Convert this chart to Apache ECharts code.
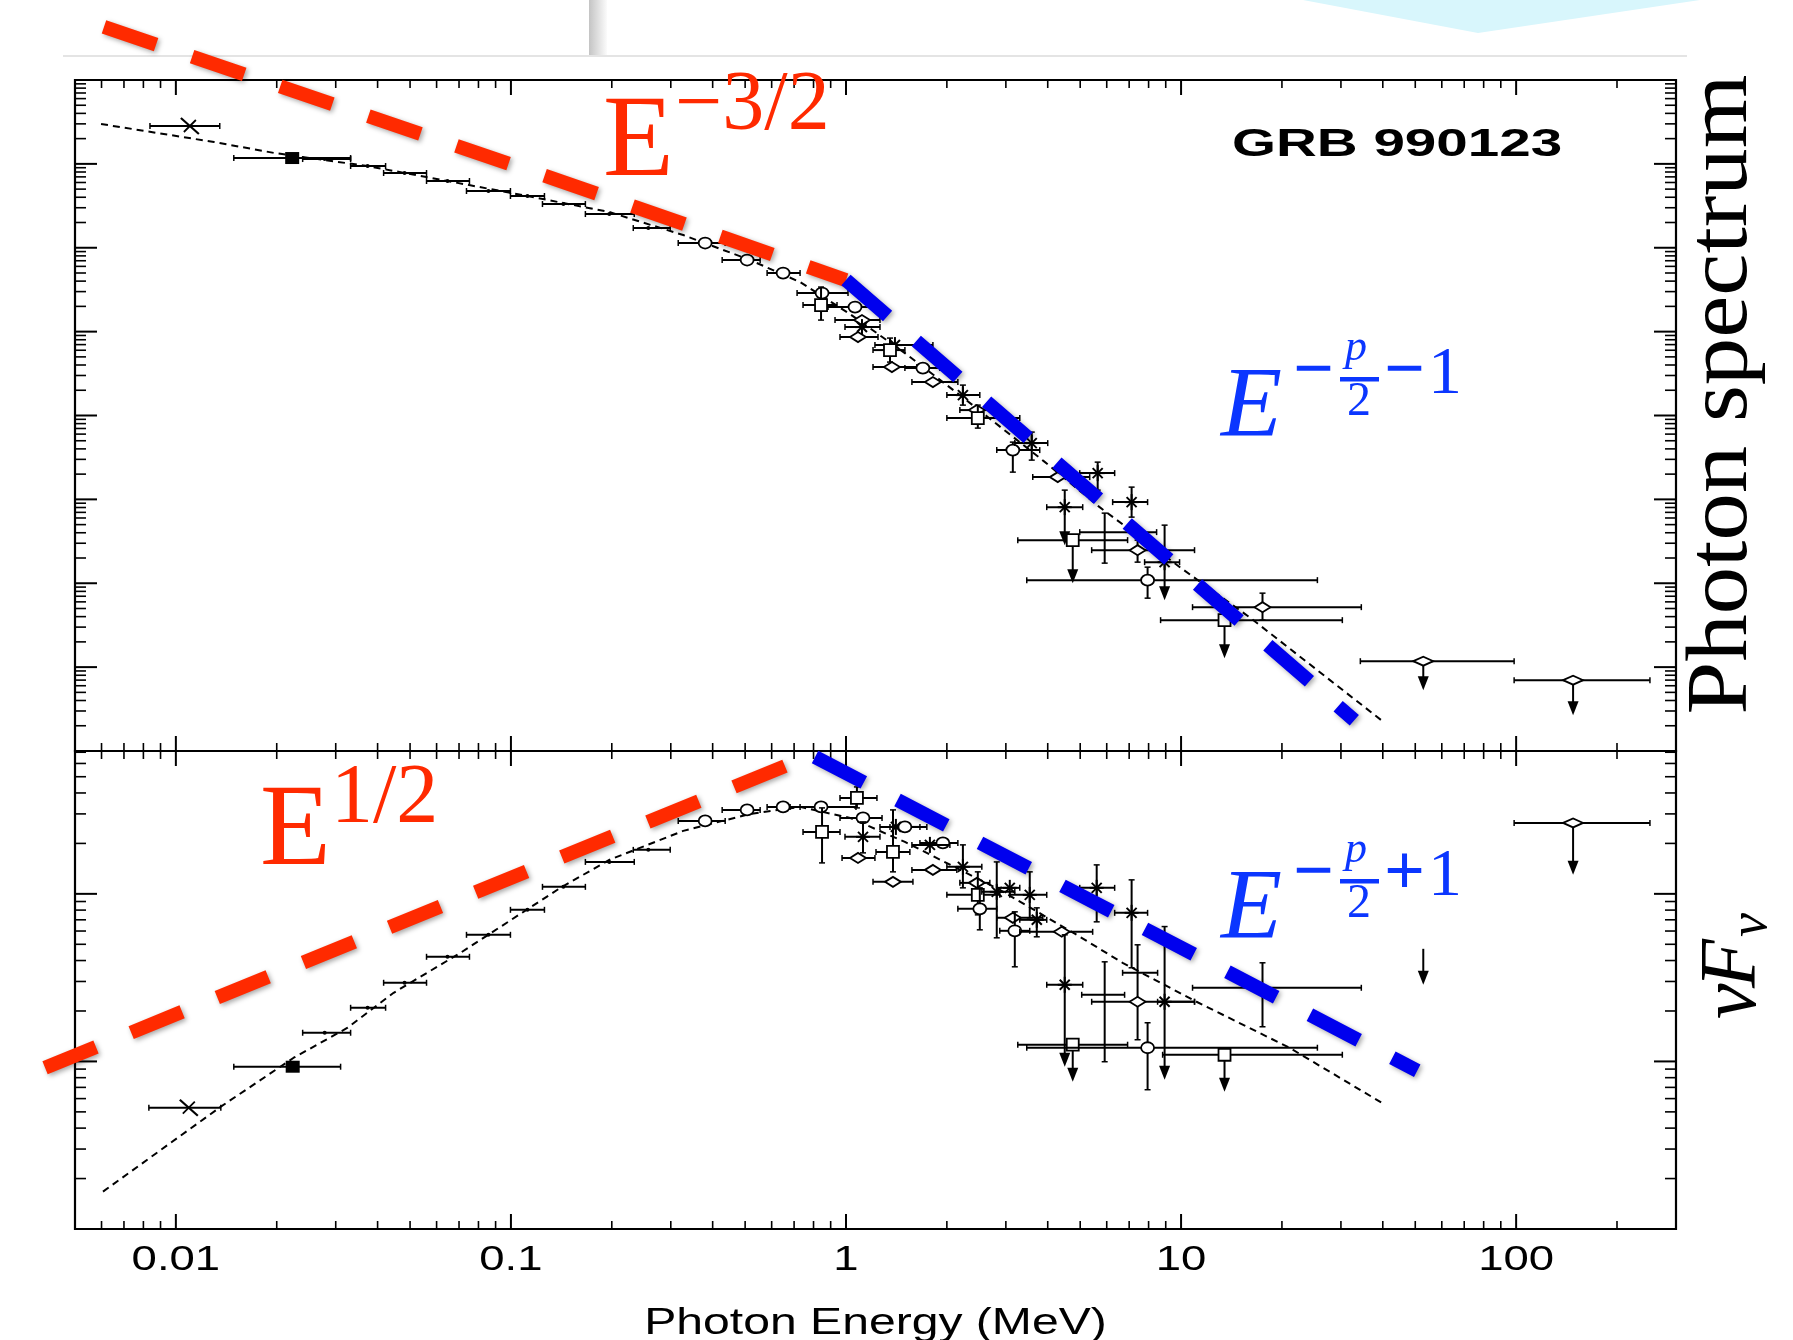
<!DOCTYPE html>
<html><head><meta charset="utf-8">
<script src="https://cdn.jsdelivr.net/npm/echarts@6/dist/echarts.min.js"></script>
<style>html,body{margin:0;padding:0;background:#fff;}#c{width:1793px;height:1340px;}</style>
</head><body><div id="c"></div><script>
// ---------- data (E in MeV; fluxes in arbitrary units, log axes) ----------
const xTickValues = [0.01, 0.1, 1, 10, 100];
const xTickLabels = ['0.01', '0.1', '1', '10', '100'];

// Band-function fit, photon spectrum (top panel)
const fitTopE = [0.00598, 0.0130, 0.0197, 0.0373, 0.0647, 0.112, 0.1966, 0.3268, 0.5175, 0.7293, 1.028, 1.499, 2.187, 3.892, 5.715, 10.10, 16.00, 39.59];
const fitTopF = [29.88, 18.22, 13.47, 9.428, 6.245, 4.137, 2.666, 1.417, 0.7135, 0.3899, 0.1619, 0.05548, 0.01751, 0.002858, 0.000808, 0.0001473, 0.0000394, 0.00000233];
// Band-function fit, nuFnu (bottom panel)
const fitBotE = [0.00606, 0.01362, 0.02247, 0.03255, 0.04466, 0.07071, 0.1405, 0.1966, 0.3268, 0.5175, 0.7293, 1.028, 1.499, 2.877, 4.881, 6.691, 11.12, 21.06, 40.14];
const fitBotF = [1.671, 5.370, 10.52, 15.89, 25.68, 44.48, 108.6, 159.5, 237.5, 300.0, 330.3, 283.9, 204.2, 105.7, 56.95, 38.78, 22.70, 12.07, 5.595];

// overlay power-law guides
const redTopE = [0.006102, 0.1405, 1.0];
const redTopF = [428.7, 6.245, 0.4119];
const blueTopE = [1.0, 32.89];
const blueTopF = [0.4119, 0.00000233];
const redBotE = [0.00407, 0.7293];
const redBotF = [9.172, 629.5];
const blueBotE = [0.8084, 50.68];
const blueBotF = [656.1, 8.80];

// points: [E, Elo, Ehi, F, Flo, Fhi, marker, upperLimitArrowTo]
const topPoints = [
 [0.01101, 0.00837, 0.01352, 28.28, null, null, 'x', null],
 [0.02224, 0.01489, 0.03323, 11.74, null, null, 'sq', null],
 [0.02781, 0.02390, 0.03323, 11.42, null, null, 'dot', null],
 [0.03735, 0.03323, 0.04226, 9.428, null, null, 'dot', null],
 [0.04815, 0.04169, 0.05599, 7.779, null, null, 'dot', null],
 [0.06467, 0.05599, 0.07520, 6.245, null, null, 'dot', null],
 [0.08568, 0.07368, 0.09966, 4.746, null, null, 'dot', null],
 [0.1120, 0.09966, 0.1259, 4.137, null, null, 'dot', null],
 [0.1434, 0.1242, 0.1668, 3.320, null, null, 'dot', null],
 [0.1966, 0.1668, 0.2334, 2.523, null, null, 'dot', null],
 [0.2570, 0.2318, 0.2988, 1.717, null, null, 'dot', null],
 [0.3799, 0.3157, 0.4359, 1.138, null, null, 'circ', null],
 [0.5069, 0.4270, 0.5543, 0.7135, null, null, 'circ', null],
 [0.6490, 0.5815, 0.7293, 0.4993, null, null, 'circ', null],
 [0.8482, 0.7145, 1.014, 0.2882, null, null, 'circ', null],
 [0.8424, 0.7443, 0.9401, 0.2073, 0.1373, 0.3399, 'osq', null],
 [1.064, 0.8839, 1.263, 0.1963, null, null, 'circ', null],
 [1.116, 0.9273, 1.263, 0.1373, null, null, 'dia', null],
 [1.116, 0.9931, 1.263, 0.1133, null, null, 'star', null],
 [1.086, 0.9596, 1.246, 0.08610, null, null, 'dia', null],
 [1.400, 1.220, 1.817, 0.06913, null, null, 'star', null],
 [1.353, 1.204, 1.499, 0.06026, 0.04333, 0.08377, 'osq', null],
 [1.371, 1.204, 1.628, 0.03777, null, null, 'dia', null],
 [1.696, 1.499, 1.906, 0.03675, null, null, 'circ', null],
 [1.817, 1.573, 2.157, 0.02502, null, null, 'dia', null],
 [2.233, 2.0, 2.508, 0.01751, 0.01330, 0.02304, 'star', null],
 [2.457, 2.187, 2.687, 0.01160, null, null, 'dia', null],
 [2.474, 2.0, 3.301, 0.00931, 0.007074, 0.01330, 'osq', null],
 [3.147, 2.818, 3.786, 0.003868, 0.002113, 0.004816, 'circ', null],
 [3.584, 3.190, 4.0, 0.004686, 0.002938, 0.006339, 'star', null],
 [4.285, 3.609, 5.337, 0.001842, null, null, 'dia', null],
 [5.638, 4.984, 6.336, 0.002056, 0.001289, 0.002780, 'star', null],
 [4.496, 3.973, 5.087, 0.000808, null, 0.001289, 'star', 0.0002848],
 [4.750, 3.256, 6.925, 0.0003266, null, null, 'osq', 0.0001003],
 [5.916, 4.984, 8.453, 0.0004069, 0.0001737, 0.0006855, 'plus', null],
 [7.119, 6.249, 7.945, 0.0009273, 0.0006142, 0.001400, 'star', null],
 [7.417, 5.410, 10.97, 0.0002481, 0.0001785, 0.0003266, 'dia', null],
 [8.930, 7.784, 9.897, 0.0001785, null, 0.000493, 'star', 0.00006286],
 [7.945, 3.463, 25.52, 0.0001089, 0.00006641, 0.0001556, 'circ', null],
 [13.48, 8.687, 30.29, 0.00003631, null, null, 'osq', 0.00001278],
 [17.50, 10.82, 34.51, 0.00005188, 0.00003631, 0.00007619, 'dia', null],
 [52.83, 34.28, 98.63, 0.00001177, null, null, 'lens', 0.000005311],
 [147.9, 98.63, 250.8, 0.000006989, null, null, 'lens', 0.000002673]
];
const bottomPoints = [
 [0.01093, 0.008307, 0.01362, 5.295, null, null, 'x', null],
 [0.02232, 0.01489, 0.03102, 9.299, null, null, 'sq', null],
 [0.02781, 0.02390, 0.03323, 14.83, null, null, 'dot', null],
 [0.03735, 0.03323, 0.04226, 20.90, null, null, 'dot', null],
 [0.04815, 0.04169, 0.05599, 29.47, null, null, 'dot', null],
 [0.06467, 0.05599, 0.07520, 42.11, null, null, 'dot', null],
 [0.08568, 0.07368, 0.09966, 56.95, null, null, 'dot', null],
 [0.1120, 0.09966, 0.1259, 80.29, null, null, 'dot', null],
 [0.1434, 0.1242, 0.1668, 110.1, null, null, 'dot', null],
 [0.1966, 0.1668, 0.2334, 155.1, null, null, 'dot', null],
 [0.2570, 0.2318, 0.2988, 183.0, null, null, 'dot', null],
 [0.3799, 0.3157, 0.4359, 272.5, null, null, 'circ', null],
 [0.5069, 0.4270, 0.5543, 316.9, null, null, 'circ', null],
 [0.6490, 0.5815, 0.7293, 330.3, null, null, 'circ', null],
 [0.8424, 0.6810, 1.071, 330.3, null, null, 'circ', null],
 [1.078, 0.9596, 1.237, 373.6, 325.8, 434.6, 'osq', null],
 [0.8482, 0.7443, 0.9596, 234.2, 153.0, 325.8, 'osq', null],
 [1.124, 0.9596, 1.281, 283.9, null, null, 'circ', null],
 [1.124, 0.9931, 1.263, 218.8, 175.6, 268.8, 'star', null],
 [1.086, 0.9732, 1.220, 163.9, null, null, 'dia', null],
 [1.409, 1.263, 1.743, 250.9, null, null, 'star', null],
 [1.499, 1.353, 1.662, 250.9, null, null, 'circ', null],
 [1.381, 1.229, 1.551, 178.0, 135.3, 316.9, 'osq', null],
 [1.381, 1.204, 1.584, 117.9, null, null, 'dia', null],
 [1.946, 1.662, 2.157, 201.4, null, null, 'circ', null],
 [1.780, 1.573, 2.042, 196.0, null, null, 'star', null],
 [1.817, 1.573, 2.142, 139.0, null, null, 'dia', null],
 [2.233, 2.0, 2.543, 144.9, 108.6, 196.0, 'star', null],
 [2.457, 2.187, 2.687, 116.3, null, null, 'dia', null],
 [2.474, 2.0, 2.877, 98.63, 74.93, 135.3, 'osq', null],
 [2.508, 2.157, 2.818, 81.40, 61.00, 108.6, 'circ', null],
 [2.818, 2.543, 3.190, 102.8, 54.66, 155.1, 'star', null],
 [3.082, 2.818, 3.301, 108.6, null, null, 'star', null],
 [3.535, 3.082, 3.973, 98.63, 71.91, 135.3, 'star', null],
 [3.147, 2.818, 3.866, 71.91, null, null, 'dia', null],
 [3.190, 2.877, 3.535, 60.18, 36.70, 78.11, 'circ', null],
 [3.710, 3.301, 3.973, 69.98, 55.42, 82.50, 'star', null],
 [4.404, 3.301, 5.447, 59.36, null, null, 'dia', null],
 [5.600, 4.984, 6.336, 108.6, 68.08, 148.9, 'star', null],
 [7.119, 6.336, 7.945, 77.04, 36.21, 121.2, 'star', null],
 [4.496, 3.973, 5.087, 28.67, null, 56.95, 'star', 9.299],
 [4.750, 3.256, 6.925, 12.58, null, null, 'osq', 7.568],
 [5.916, 5.052, 6.784, 24.98, 9.959, 39.30, 'plus', null],
 [7.417, 5.410, 10.97, 22.70, 13.47, 49.65, 'dia', null],
 [7.367, 6.691, 8.511, 33.80, null, null, 'plus', null],
 [8.930, 8.511, 10.97, 22.70, null, 63.8, 'star', 7.779],
 [7.945, 3.463, 25.52, 12.07, 6.779, 17.01, 'circ', null],
 [13.48, 8.810, 30.29, 10.96, null, null, 'osq', 6.597],
 [17.50, 10.82, 34.51, 27.51, 16.10, 38.78, 'plus', null],
 [52.83, null, null, 46.99, null, null, 'none', 28.67],
 [147.9, 98.63, 250.8, 265.1, null, null, 'lens', 129.8]
];

// ---------- helpers ----------
const RED = '#ff2a00', BLUE = '#0000ee', BLUE_TXT = '#0b36ff';
function pairs(a, b) { return a.map((v, i) => [v, b[i]]); }

function pointRenderer(rows) {
  return function (params, api) {
    const r = rows[params.dataIndex];
    const E = r[0], Elo = r[1], Ehi = r[2], F = r[3], Flo = r[4], Fhi = r[5], kind = r[6], lim = r[7];
    const c = api.coord([E, F]);
    const x = c[0], y = c[1];
    const kids = [];
    const line = (x1, y1, x2, y2, w) => kids.push({ type: 'line', shape: { x1, y1, x2, y2 }, style: { stroke: '#000', lineWidth: w || 2 } });
    if (Elo != null && Ehi != null) {
      const a = api.coord([Elo, F])[0], b = api.coord([Ehi, F])[0];
      line(a, y, b, y);
      line(a, y - 3, a, y + 3, 1.5);
      line(b, y - 3, b, y + 3, 1.5);
    }
    if (Fhi != null) {
      const hi = api.coord([E, Fhi])[1];
      line(x, hi, x, y);
      line(x - 3, hi, x + 3, hi, 1.5);
    }
    if (Flo != null) {
      const lo = api.coord([E, Flo])[1];
      line(x, y, x, lo);
      line(x - 3, lo, x + 3, lo, 1.5);
    }
    if (lim != null) {
      const t = api.coord([E, lim])[1];
      line(x, y, x, t - 10);
      kids.push({ type: 'polygon', shape: { points: [[x - 5.5, t - 14], [x + 5.5, t - 14], [x, t]] }, style: { fill: '#000' } });
    }
    const open = { fill: '#fff', stroke: '#000', lineWidth: 1.8 };
    switch (kind) {
      case 'x': line(x - 9, y - 8, x + 9, y + 8, 2.2); line(x - 6, y + 6, x + 6, y - 6, 1.8); break;
      case 'sq': kids.push({ type: 'rect', shape: { x: x - 7, y: y - 6, width: 14, height: 12 }, style: { fill: '#000' } }); break;
      case 'dot': kids.push({ type: 'circle', shape: { cx: x, cy: y, r: 2 }, style: { fill: '#000' } }); break;
      case 'circ': kids.push({ type: 'ellipse', shape: { cx: x, cy: y, rx: 6.5, ry: 5.5 }, style: open }); break;
      case 'osq': kids.push({ type: 'rect', shape: { x: x - 6, y: y - 6, width: 12, height: 12 }, style: open }); break;
      case 'dia': kids.push({ type: 'polygon', shape: { points: [[x - 8, y], [x, y - 5], [x + 8, y], [x, y + 5]] }, style: open }); break;
      case 'lens': kids.push({ type: 'polygon', shape: { points: [[x - 10, y], [x, y - 4.5], [x + 10, y], [x, y + 4.5]] }, style: open }); break;
      case 'star':
        line(x - 7, y, x + 7, y, 2); line(x, y - 8, x, y + 8, 2);
        line(x - 5, y - 5, x + 5, y + 5, 2); line(x - 5, y + 5, x + 5, y - 5, 2); break;
      default: break;
    }
    return { type: 'group', children: kids };
  };
}

// thick dashed power-law guide, drawn through the axes' scales
function guideRenderer(E, F, color) {
  return function (params, api) {
    const pts = E.map((e, i) => api.coord([e, F[i]]));
    return {
      type: 'polyline', shape: { points: pts },
      style: { stroke: color, fill: null, lineWidth: 14, lineDash: [55, 38], lineCap: 'butt', lineJoin: 'miter',
               shadowBlur: 5, shadowColor: 'rgba(0,0,0,0.35)', shadowOffsetX: 2, shadowOffsetY: 2 }
    };
  };
}
function guideSeries(E, F, color, idx) {
  const n = E.length - 1;
  return { type: 'custom', xAxisIndex: idx, yAxisIndex: idx, data: [[E[n], F[n]]], renderItem: guideRenderer(E, F, color), clip: false, silent: true, z: 10 };
}

// tick positions (axis decoration)
function logTicks(lo, hi) {
  const out = [];
  for (let k = -7; k <= 3; k++) for (let m = 1; m <= 9; m++) {
    const v = m * Math.pow(10, k);
    if (v > lo * 1.0001 && v < hi * 0.9999) out.push({ v, major: m === 1 });
  }
  return out;
}
const X_MIN = 0.005, X_MAX = 300;
const TOP_MIN = 1e-6, TOP_MAX = 100, BOT_MIN = 1, BOT_MAX = 712;
const xTicks = logTicks(X_MIN, X_MAX);
function tickRenderer(yTicks) {
  return function (params, api) {
    const cs = params.coordSys;
    const kids = [];
    const L = (x1, y1, x2, y2, w) => kids.push({ type: 'line', shape: { x1, y1, x2, y2 }, style: { stroke: '#000', lineWidth: w } });
    xTicks.forEach(t => {
      const x = api.coord([t.v, 10])[0];
      const len = t.major ? 15 : 8, w = t.major ? 2 : 1.6;
      L(x, cs.y, x, cs.y + len, w);
      L(x, cs.y + cs.height, x, cs.y + cs.height - len, w);
    });
    yTicks.forEach(t => {
      const y = api.coord([1, t.v])[1];
      const len = t.major ? 22 : 11, w = t.major ? 2 : 1.6;
      L(cs.x, y, cs.x + len, y, w);
      L(cs.x + cs.width, y, cs.x + cs.width - len, y, w);
    });
    return { type: 'group', children: kids };
  };
}

const axisOff = { axisLine: { show: false }, axisTick: { show: false }, axisLabel: { show: false }, splitLine: { show: false } };

const chart = echarts.init(document.getElementById('c'), null, { renderer: 'canvas' });
chart.setOption({
  animation: false,
  backgroundColor: '#ffffff',
  grid: [
    { left: 75, top: 80, width: 1601, height: 671, show: true, borderColor: '#000', borderWidth: 2.2, backgroundColor: 'transparent' },
    { left: 75, top: 751, width: 1601, height: 478, show: true, borderColor: '#000', borderWidth: 2.2, backgroundColor: 'transparent' }
  ],
  xAxis: [
    Object.assign({ type: 'log', gridIndex: 0, min: X_MIN, max: X_MAX }, axisOff),
    Object.assign({ type: 'log', gridIndex: 1, min: X_MIN, max: X_MAX }, axisOff)
  ],
  yAxis: [
    Object.assign({ type: 'log', gridIndex: 0, min: TOP_MIN, max: TOP_MAX }, axisOff),
    Object.assign({ type: 'log', gridIndex: 1, min: BOT_MIN, max: BOT_MAX }, axisOff)
  ],
  series: [
    { type: 'custom', xAxisIndex: 0, yAxisIndex: 0, data: [[1, 10]], renderItem: tickRenderer(logTicks(TOP_MIN, TOP_MAX)), silent: true, z: 2 },
    { type: 'custom', xAxisIndex: 1, yAxisIndex: 1, data: [[1, 10]], renderItem: tickRenderer(logTicks(BOT_MIN, BOT_MAX)), silent: true, z: 2 },
    { type: 'line', xAxisIndex: 0, yAxisIndex: 0, data: pairs(fitTopE, fitTopF), symbol: 'none', lineStyle: { color: '#000', width: 2, type: [7, 5] }, silent: true, z: 3 },
    { type: 'line', xAxisIndex: 1, yAxisIndex: 1, data: pairs(fitBotE, fitBotF), symbol: 'none', lineStyle: { color: '#000', width: 2, type: [7, 5] }, silent: true, z: 3 },
    { type: 'custom', xAxisIndex: 0, yAxisIndex: 0, data: topPoints.map(r => [r[0], r[3]]), renderItem: pointRenderer(topPoints), silent: true, z: 4 },
    { type: 'custom', xAxisIndex: 1, yAxisIndex: 1, data: bottomPoints.map(r => [r[0], r[3]]), renderItem: pointRenderer(bottomPoints), silent: true, z: 4 },
    guideSeries(redTopE, redTopF, RED, 0),
    guideSeries(blueTopE, blueTopF, BLUE, 0),
    guideSeries(redBotE, redBotF, RED, 1),
    guideSeries(blueBotE, blueBotF, BLUE, 1)
  ]
});

// ---------- text & decorations ----------
function txt(text, x, y, font, fill, opts) {
  opts = opts || {};
  return Object.assign({
    type: 'text', x, y, z: 100, silent: true,
    style: { text, font, fill, align: opts.align || 'left', textAlign: opts.align || 'left', verticalAlign: 'middle', textVerticalAlign: 'middle' }
  }, opts.el || {});
}
const SERIF = '"Liberation Serif", "Times New Roman", serif';
const SANS = '"Liberation Sans", Arial, sans-serif';
const g = [];
// slide decorations
g.push({ type: 'rect', shape: { x: 589, y: 0, width: 18, height: 56 }, style: { fill: { type: 'linear', x: 0, y: 0, x2: 1, y2: 0, colorStops: [{ offset: 0, color: '#c4c4c4' }, { offset: 1, color: '#fbfbfb' }] } }, z: 1, silent: true });
g.push({ type: 'polygon', shape: { points: [[1303, 0], [1700, 0], [1478, 33]] }, style: { fill: '#d8f6fc' }, z: 1, silent: true });
g.push({ type: 'line', shape: { x1: 63, y1: 56, x2: 1687, y2: 56 }, style: { stroke: '#e4e4e4', lineWidth: 2 }, z: 1, silent: true });

// x tick labels
xTickValues.forEach((v, i) => {
  const px = chart.convertToPixel({ xAxisIndex: 1 }, v);
  g.push(txt(xTickLabels[i], px, 1260, '35px ' + SANS, '#000', { align: 'center', el: { scaleX: 1.3 } }));
});
g.push(txt('Photon Energy (MeV)', 875.5, 1324, '37px ' + SANS, '#000', { align: 'center', el: { scaleX: 1.3 } }));
g.push(txt('GRB 990123', 1232, 145, 'bold 39px ' + SANS, '#000', { el: { scaleX: 1.45 } }));

// red annotations
g.push(txt('E', 603, 145, '116px ' + SERIF, RED));
g.push(txt('\u22123/2', 675, 107, '84px ' + SERIF, RED));
g.push(txt('E', 260, 834, '116px ' + SERIF, RED));
g.push(txt('1/2', 331, 800, '84px ' + SERIF, RED));

// blue annotations
function blueFormula(dy, sign) {
  g.push(txt('E', 1221, 409 + dy, 'italic 100px ' + SERIF, BLUE_TXT));
  g.push(txt('\u2212', 1293, 373 + dy, 'bold 72px ' + SERIF, BLUE_TXT));
  g.push(txt('p', 1345, 348 + dy, 'italic 44px ' + SERIF, BLUE_TXT));
  g.push({ type: 'rect', shape: { x: 1340, y: 377 + dy, width: 39, height: 4.5 }, style: { fill: BLUE_TXT }, z: 100, silent: true });
  g.push(txt('2', 1347, 402 + dy, '48px ' + SERIF, BLUE_TXT));
  g.push(txt(sign, 1384, 373 + dy, 'bold 72px ' + SERIF, BLUE_TXT));
  g.push(txt('1', 1428, 375 + dy, '68px ' + SERIF, BLUE_TXT));
}
blueFormula(0, '\u2212');
blueFormula(502, '+');

// right-side labels
g.push(txt('Photon spectrum', 1723, 394.5, '87px ' + SERIF, '#000', { align: 'center', el: { rotation: Math.PI / 2, scaleX: 1.09 } }));
g.push({
  type: 'group', x: 1761, y: 1019, rotation: Math.PI / 2, silent: true, z: 100,
  children: [
    txt('\u03BD', 0, -27, 'italic 80px ' + SERIF, '#000'),
    txt('F', 31, -27, 'italic 80px ' + SERIF, '#000'),
    txt('\u03BD', 82, -9, 'italic 54px ' + SERIF, '#000')
  ]
});
chart.setOption({ graphic: g });
</script></body></html>
